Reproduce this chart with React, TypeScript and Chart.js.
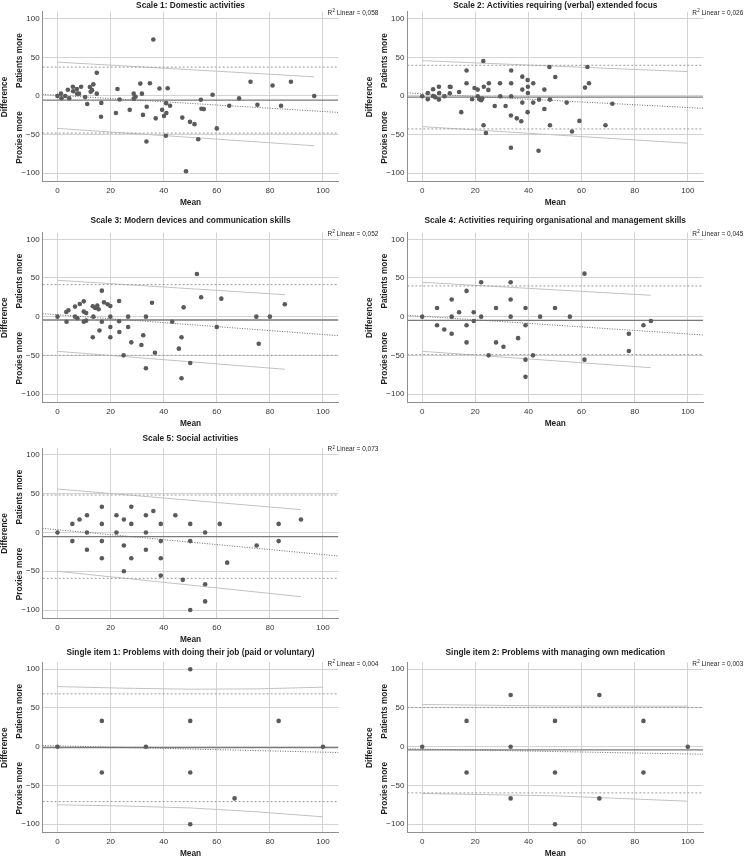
import React, { useEffect, useRef } from "react";
import { Chart, registerables } from "chart.js";

Chart.register(...registerables);

// ---------- axis definitions ----------
const X_TICKS = [0, 20, 40, 60, 80, 100];
const Y_TICKS = [-100, -50, 0, 50, 100];
const X_MIN = -5.6;
const X_MAX = 105.8;
const Y_MIN = -111.3;
const Y_MAX = 109;

const TITLES = [
  "Scale 1: Domestic activities",
  "Scale 2: Activities requiring (verbal) extended focus",
  "Scale 3: Modern devices and communication skills",
  "Scale 4: Activities requiring organisational and management skills",
  "Scale 5: Social activities",
  "Single item 1: Problems with doing their job (paid or voluntary)",
  "Single item 2: Problems with managing own medication",
];
const R2_VALUES = ["0,058", "0,026", "0,052", "0,045", "0,073", "0,004", "0,003"];

// ---------- Scale 1 ----------
const scale1X = [0, 1.3, 1.5, 2.9, 3.9, 4.4, 5.8, 5.9, 7.3, 7.4, 8.1, 8.9, 10.4, 11.2, 12.2, 12.5, 13, 13.5, 14.8, 14.8, 16.5, 16.4, 22, 22.6, 23.4, 27.2, 28.7, 28.7, 29.4, 31.2, 31.8, 32.2, 33.6, 33.5, 34.8, 36.1, 37, 38.4, 39.4, 40.1, 40.9, 41, 40.8, 41.5, 42.4, 47, 48.4, 49.9, 51.6, 53, 54, 54.2, 55.1, 58.4, 60, 64.7, 68.4, 72.7, 75.3, 81, 84.2, 87.9, 96.7];
const scale1Y = [0, 3, -3, 0, 8, -3, 12, 6, 9, 3, 3, 12, -1.5, -10.5, 11.5, 5.4, 7.5, 15, 30, 3, -9, -27, -22, 9, -4.5, -18, 3, -3.5, -1, 16, 3, -24.5, -14, -59, 16.5, 73, -29, 9.7, -18, -26, -9.3, -22, -51.6, 10, -12.7, -28, -97.4, -33.5, -36.5, -56, -5, -16.6, -17, 1.5, -42, -12.7, -3.2, 18.4, -11.4, 13.6, -12.7, 18.4, 0];
const scale1Agreement = [-5.4, 37.3, -48.1]; // mean, upper, lower
const scale1Trend = [2.0, -21.3];
const scale1UpperX = [0, 96.7];
const scale1UpperY = [43.8, 24.8];
const scale1LowerX = [0, 96.7];
const scale1LowerY = [-42, -64.5];

// ---------- Scale 2 ----------
const scale2X = [0, 2.1, 2.1, 4.1, 4.1, 4.9, 6.3, 6.4, 6.3, 8.4, 10.4, 10.7, 10.4, 13.9, 14.7, 16.7, 16.7, 18.8, 19.7, 20.9, 20.9, 21.5, 22.2, 22.6, 23, 23.2, 23.1, 24, 24.9, 25.1, 27.3, 29.3, 29.4, 31.4, 33.5, 33.5, 33.5, 33.4, 33.4, 35.6, 37.3, 37.7, 37.7, 37.7, 39.7, 39.8, 39.8, 39.7, 41.8, 41.8, 44, 43.8, 46, 46, 47.9, 48.1, 48.1, 50.1, 54.4, 56.4, 59.2, 61.3, 62.2, 62.8, 69, 71.6];
const scale2Y = [-0.4, 3.9, -4.3, 8.6, 0, -1.7, 12, 3.9, -4.7, -0.4, 12, 11.6, 3.4, 5.2, -21, 33, 16.4, -4.3, 10.3, 8.2, -0.4, -4.3, -5.6, -3.4, 45.3, 12, -38, -48, 7.8, 16.4, -13, 16.4, -0.4, -13, 33, 16.4, -0.4, -25.4, -67, -29, -32.8, 25, 8.2, -8.6, 20.7, 12, 3.9, -21, 16.4, -8.6, -4.7, -71, 8.2, -16.8, 37.5, -4.7, -38, 24.6, -8.6, -46, -32.3, 10.8, 37.5, 16.4, -38, -10];
const scale2Agreement = [-1.5, 39.7, -42.7];
const scale2Trend = [3.9, -16];
const scale2UpperX = [0, 100];
const scale2UpperY = [45.7, 31.5];
const scale2LowerX = [0, 100];
const scale2LowerY = [-39.7, -61.2];

// ---------- Scale 3 ----------
const scale3X = [0, 3.3, 4.1, 3.4, 6.6, 6.6, 7.5, 8.4, 9.9, 9.9, 9.9, 10.8, 10.8, 13.3, 13.5, 13.3, 14.2, 15, 15.5, 15.8, 16.7, 16.7, 17.5, 18.9, 19.9, 19.9, 19.9, 19.9, 23.2, 23.2, 23.3, 24.9, 26.6, 26.6, 27.8, 31.6, 32.3, 33.3, 33.3, 35.6, 36.7, 43.2, 45.7, 46.7, 46.7, 47.5, 50, 52.5, 54.1, 60, 61.7, 74.9, 75.8, 80, 85.6];
const scale3Y = [0, 6, 8.2, -6.5, 13, 0, -2, 16.4, 19.8, 6.5, -6.5, 4.7, -5.2, 13.4, 0, -26.7, 11.2, 14.2, 9.5, -18, 33.6, -6.5, 18.5, 16, 13.8, 0, -13.4, -26.7, 20.3, -6, -19.8, -50, 0, -13.4, -33.2, -36.6, -24.1, 0, -66.8, 18, -46.6, -6.5, -41.4, -26.7, -79.7, 12, -60, 55.2, 25, -13.4, 23.3, 0, -35, 0, 16];
const scale3Agreement = [-4.3, 41.4, -50];
const scale3Trend = [3.9, -24.6];
const scale3UpperX = [0, 85.6];
const scale3UpperY = [47, 28.4];
const scale3LowerX = [0, 85.6];
const scale3LowerY = [-44.8, -68];

// ---------- Scale 4 ----------
const scale4X = [0, 5.6, 5.6, 8.3, 11.1, 11.1, 11.1, 13.9, 16.7, 16.7, 16.7, 19.4, 19.4, 22.2, 22.2, 25, 27.8, 27.8, 30.6, 33.3, 33.3, 33.3, 36.1, 38.9, 38.9, 38.9, 38.9, 41.7, 44.4, 50, 55.6, 61.1, 61.1, 77.8, 77.8, 83.3, 86.1];
const scale4Y = [0, 11.1, -11.1, -16.7, 22.2, 0, -22.2, 5.6, 33.3, -11.1, -33.3, 5.6, -5.6, 44.4, 0, -50, 11.1, -33.3, -38.9, 44.4, 22.2, 0, -27.8, 11.1, -11.1, -55.6, -77.8, -50, 0, 11.1, 0, 55.6, -55.6, -22.2, -44.4, -11.1, -5.6];
const scale4Agreement = [-4.7, 39.7, -49.1];
const scale4Trend = [1.7, -23.7];
const scale4UpperX = [0, 86.1];
const scale4UpperY = [44.4, 27.6];
const scale4LowerX = [0, 86.1];
const scale4LowerY = [-44.8, -66];

// ---------- Scale 5 ----------
const scale5X = [0, 5.6, 5.6, 8.3, 11.1, 11.1, 11.1, 16.7, 16.7, 16.7, 16.7, 22.2, 22.2, 25, 25, 25, 27.8, 27.8, 27.8, 33.3, 33.3, 33.3, 36.1, 38.9, 38.9, 38.9, 38.9, 44.4, 47.2, 50, 50, 50, 55.6, 55.6, 55.6, 61.1, 63.9, 75, 83.3, 83.3, 91.7];
const scale5Y = [0, 11.1, -11.1, 16.7, 22.2, 0, -22.2, 33.3, 11.1, -11.1, -33.3, 22.2, 0, 16.7, -16.7, -50, 33.3, 11.1, -33.3, 22.2, 0, -22.2, 27.8, 11.1, -11.1, -33.3, -55.6, 22.2, -61.1, 11.1, -11.1, -100, 0, -66.7, -88.9, 11.1, -38.9, -16.7, 11.1, -11.1, 16.7];
const scale5Agreement = [-5.4, 48.4, -59.1];
const scale5Trend = [5.4, -30.3];
const scale5UpperX = [0, 91.7];
const scale5UpperY = [56.1, 29.5];
const scale5LowerX = [0, 91.7];
const scale5LowerY = [-50, -82.8];

// ---------- Single item 1 ----------
const item1X = [0, 16.7, 16.7, 33.3, 50, 50, 50, 50, 66.7, 83.3, 100];
const item1Y = [0, 33.3, -33.3, 0, 100, 33.3, -33.3, -100, -66.7, 33.3, 0];
const item1Agreement = [-1.2, 68.2, -70.8];
const item1Trend = [1.5, -7.5];
const item1UpperX = [0, 25, 50, 75, 100];
const item1UpperY = [77.6, 75.5, 74.2, 74.6, 76.8];
const item1LowerX = [0, 25, 50, 75, 100];
const item1LowerY = [-75, -76.5, -79, -84, -90.5];

// ---------- Single item 2 ----------
const item2X = [0, 16.7, 16.7, 33.3, 33.3, 33.3, 50, 50, 50, 66.7, 66.7, 83.3, 83.3, 100];
const item2Y = [0, 33.3, -33.3, 66.7, 0, -66.7, 33.3, -33.3, -100, 66.7, -66.7, 33.3, -33.3, 0];
const item2Agreement = [-4.0, 50.5, -59.6];
const item2Trend = [-2.8, -9.7];
const item2UpperX = [0, 50, 100];
const item2UpperY = [54.4, 52.6, 52.3];
const item2LowerX = [0, 50, 100];
const item2LowerY = [-60.4, -63.4, -70.3];

const PANEL_DATA = [
  { xs: scale1X, ys: scale1Y, agr: scale1Agreement, trend: scale1Trend, ux: scale1UpperX, uy: scale1UpperY, lx: scale1LowerX, ly: scale1LowerY },
  { xs: scale2X, ys: scale2Y, agr: scale2Agreement, trend: scale2Trend, ux: scale2UpperX, uy: scale2UpperY, lx: scale2LowerX, ly: scale2LowerY },
  { xs: scale3X, ys: scale3Y, agr: scale3Agreement, trend: scale3Trend, ux: scale3UpperX, uy: scale3UpperY, lx: scale3LowerX, ly: scale3LowerY },
  { xs: scale4X, ys: scale4Y, agr: scale4Agreement, trend: scale4Trend, ux: scale4UpperX, uy: scale4UpperY, lx: scale4LowerX, ly: scale4LowerY },
  { xs: scale5X, ys: scale5Y, agr: scale5Agreement, trend: scale5Trend, ux: scale5UpperX, uy: scale5UpperY, lx: scale5LowerX, ly: scale5LowerY },
  { xs: item1X, ys: item1Y, agr: item1Agreement, trend: item1Trend, ux: item1UpperX, uy: item1UpperY, lx: item1LowerX, ly: item1LowerY },
  { xs: item2X, ys: item2Y, agr: item2Agreement, trend: item2Trend, ux: item2UpperX, uy: item2UpperY, lx: item2LowerX, ly: item2LowerY },
];

// ---------- layout (page pixels) ----------
const COLS = [
  { x0: 57.5, x100: 323 },
  { x0: 422.2, x100: 687.8 },
];
const ROWS = [
  { y100: 18.7, ym100: 173.2, titleY: 5.5 },
  { y100: 239.3, ym100: 394, titleY: 221 },
  { y100: 455, ym100: 610, titleY: 439 },
  { y100: 669.2, ym100: 824.2, titleY: 652.5 },
];
const PANEL_POS = [
  [0, 0], [1, 0], [0, 1], [1, 1], [0, 2], [0, 3], [1, 3],
];

const FONT = '"Liberation Sans", Arial, Helvetica, sans-serif';
const Y_AXIS_W = 43;
const X_AXIS_H = 26;

function geometry(i: number) {
  const [c, r] = PANEL_POS[i];
  const col = COLS[c];
  const row = ROWS[r];
  const sx = (col.x100 - col.x0) / 100;
  const sy = (row.ym100 - row.y100) / 200;
  const l = col.x0 + X_MIN * sx;
  const rr = col.x0 + X_MAX * sx;
  const t = row.y100 - (Y_MAX - 100) * sy;
  const b = row.ym100 + (-100 - Y_MIN) * sy;
  const left = Math.floor(l - Y_AXIS_W);
  const top = Math.floor(t - 22);
  const right = Math.min(745, Math.ceil(rr + 46));
  const bottom = Math.ceil(b + X_AXIS_H);
  return {
    left, top, width: right - left, height: bottom - top,
    yW: l - left, padTop: t - top, padRight: right - rr, padBottom: bottom - (b + X_AXIS_H),
    titleY: row.titleY - top,
  };
}

function lineSet(xs: number[], ys: number[], color: string, width: number, dash: number[]) {
  return {
    data: xs.map((x, k) => ({ x, y: ys[k] })),
    showLine: true,
    borderColor: color,
    borderWidth: width,
    borderDash: dash,
    pointRadius: 0,
    pointHoverRadius: 0,
    fill: false,
    tension: 0,
  };
}

const fmtTick = (v: any) => {
  const n = Number(v);
  return n < 0 ? "\u2212" + Math.abs(n) : String(n);
};

function Panel({ index }: { index: number }) {
  const ref = useRef<HTMLCanvasElement>(null);
  const g = geometry(index);
  useEffect(() => {
    const d = PANEL_DATA[index];
    const [mean, upper, lower] = d.agr;
    const title = TITLES[index];
    const r2 = R2_VALUES[index];
    const textPlugin = {
      id: "panelText" + index,
      afterDraw(chart: any) {
        const { ctx, chartArea: ca, scales } = chart;
        ctx.save();
        ctx.fillStyle = "#1e1e1e";
        ctx.textAlign = "center";
        ctx.textBaseline = "middle";
        ctx.font = `bold 8.3px ${FONT}`;
        const cx = (ca.left + ca.right) / 2;
        ctx.fillText(title, cx, g.titleY);
        ctx.fillText("Mean", cx, ca.bottom + 20.5);
        const y0 = scales.y.getPixelForValue(0);
        const vtext = (txt: string, x: number, y: number) => {
          ctx.save();
          ctx.translate(x, y);
          ctx.rotate(-Math.PI / 2);
          ctx.fillText(txt, 0, 0);
          ctx.restore();
        };
        vtext("Difference", ca.left - 38, y0 + 1);
        vtext("Patients more", ca.left - 23, y0 - 35.5);
        vtext("Proxies more", ca.left - 23, y0 + 41.5);
        // R² label
        ctx.textAlign = "left";
        ctx.font = `6.5px ${FONT}`;
        let x = ca.right - 11;
        const y = ca.top + 1.5;
        ctx.fillText("R", x, y);
        x += ctx.measureText("R").width;
        ctx.font = `4.5px ${FONT}`;
        ctx.fillText("2", x + 0.3, y - 2.2);
        x += ctx.measureText("2").width + 0.3;
        ctx.font = `6.5px ${FONT}`;
        ctx.fillText(" Linear = " + r2, x, y);
        ctx.restore();
      },
    };

    const chart = new Chart(ref.current as HTMLCanvasElement, {
      type: "scatter",
      data: {
        datasets: [
          {
            data: d.xs.map((x, k) => ({ x, y: d.ys[k] })),
            pointRadius: 2.3,
            pointBackgroundColor: "#5a5a5a",
            pointBorderColor: "#5a5a5a",
            pointBorderWidth: 0,
            showLine: false,
          } as any,
          lineSet([X_MIN, X_MAX], [d.trend[0], d.trend[1]], "#6a6a6a", 1, [1, 1.5]),
          lineSet([X_MIN, X_MAX], [mean, mean], "#7a7a7a", 1.3, []),
          lineSet([X_MIN, X_MAX], [upper, upper], "#9a9a9a", 1, [2, 2]),
          lineSet([X_MIN, X_MAX], [lower, lower], "#9a9a9a", 1, [2, 2]),
          lineSet(d.ux, d.uy, "#c2c2c2", 1, []),
          lineSet(d.lx, d.ly, "#c2c2c2", 1, []),
        ],
      },
      options: {
        animation: false,
        responsive: false,
        devicePixelRatio: 1,
        events: [],
        layout: {
          padding: { left: 0, top: g.padTop, right: g.padRight, bottom: g.padBottom },
        },
        plugins: {
          legend: { display: false },
          tooltip: { enabled: false },
          title: { display: false },
        },
        scales: {
          x: {
            type: "linear",
            min: X_MIN,
            max: X_MAX,
            afterBuildTicks: (s: any) => {
              s.ticks = X_TICKS.map((v) => ({ value: v }));
            },
            afterFit: (s: any) => {
              s.height = X_AXIS_H;
            },
            grid: { color: "#d3d3d3", lineWidth: 1, drawTicks: false },
            border: { display: true, color: "#8e8e8e", width: 1 },
            ticks: { padding: 4, color: "#333", font: { family: FONT, size: 8 }, maxRotation: 0, autoSkip: false, callback: fmtTick },
            title: { display: false },
          },
          y: {
            type: "linear",
            min: Y_MIN,
            max: Y_MAX,
            afterBuildTicks: (s: any) => {
              s.ticks = Y_TICKS.map((v) => ({ value: v }));
            },
            afterFit: (s: any) => {
              s.width = g.yW;
            },
            grid: { color: "#d3d3d3", lineWidth: 1, drawTicks: false },
            border: { display: true, color: "#8e8e8e", width: 1 },
            ticks: { padding: 3, color: "#333", font: { family: FONT, size: 8 }, autoSkip: false, callback: fmtTick },
            title: { display: false },
          },
        },
      } as any,
      plugins: [textPlugin],
    });
    return () => chart.destroy();
  }, [index]);
  return (
    <canvas
      ref={ref}
      width={g.width}
      height={g.height}
      style={{ position: "absolute", left: g.left, top: g.top, width: g.width, height: g.height }}
    />
  );
}

export default function App() {
  return (
    <div
      style={{
        position: "absolute",
        left: 0,
        top: 0,
        width: 745,
        height: 857,
        overflow: "hidden",
        background: "#ffffff",
      }}
    >
      {PANEL_DATA.map((_, i) => (
        <Panel key={i} index={i} />
      ))}
    </div>
  );
}
